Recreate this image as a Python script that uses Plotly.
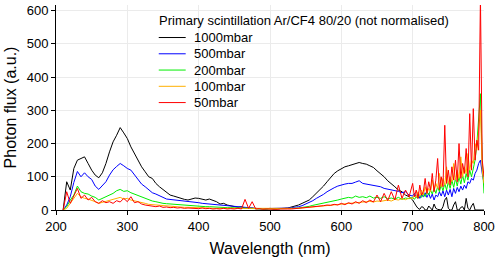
import plotly.graph_objects as go

# sampling: 5 nm up to 695 nm, 2.5 nm from 700 to 800 nm
wavelength = list(range(210, 700, 5)) + [700 + 2.5 * i for i in range(41)]

flux_1000 = [0, 85, 60, 125, 150, 155, 160, 140, 120, 105, 97, 112, 140, 175, 205, 225, 248, 232, 215, 190,
             170, 150, 130, 115, 100, 95, 80, 70, 62, 55, 45, 42, 38, 34, 32, 30, 33, 36, 35, 32,
             30, 33, 30, 25, 18, 20, 15, 12, 10, 8, 10, 6, 5, 6, 4, 5, 4, 3, 5, 3,
             3, 4, 5, 6, 8, 12, 15, 20, 25, 30, 40, 50, 62, 72, 85, 98, 110, 118, 125, 130,
             133, 136, 140, 143, 140, 138, 133, 128, 118, 110, 100, 88, 80, 70, 60, 55, 45, 40,
             30, 20, 12, 5, 2, 10, 8, 0, 0, 12, 5, 0, 18, 5, 2, 0, 0, 10, 30, 38,
             5, 0, 0, 15, 25, 0, 0, 8, 10, 0, 35, 5, 0, 12, 20, 0, 0, 0, 0, 0, 0]

flux_500 = [0, 15, 40, 83, 116, 100, 112, 100, 92, 72, 62, 72, 85, 105, 121, 131, 140, 133, 125, 120,
            105, 90, 78, 70, 60, 52, 48, 42, 38, 33, 32, 30, 28, 27, 28, 25, 24, 23, 22, 20,
            19, 18, 17, 15, 14, 13, 12, 10, 9, 8, 7, 6, 6, 5, 5, 4, 4, 4, 4, 4,
            4, 4, 5, 6, 7, 8, 10, 13, 18, 22, 28, 35, 40, 47, 55, 62, 67, 72, 76, 78,
            80, 80, 84, 88, 80, 78, 77, 75, 73, 70, 65, 63, 60, 58, 56, 52, 55, 45,
            42, 50, 38, 48, 35, 45, 40, 52, 38, 50, 35, 48, 30, 45, 40, 55, 42, 58, 40, 60,
            45, 62, 40, 65, 50, 68, 55, 72, 60, 75, 65, 85, 80, 95, 90, 110, 120, 140, 150, 110, 80]

flux_200 = [0, 10, 30, 45, 72, 55, 50, 48, 42, 38, 30, 35, 38, 45, 50, 58, 62, 56, 58, 52,
            48, 42, 38, 34, 30, 27, 25, 22, 20, 19, 18, 17, 16, 15, 15, 14, 13, 12, 12, 11,
            10, 10, 9, 9, 8, 8, 7, 7, 6, 6, 5, 5, 5, 4, 4, 4, 3, 3, 3, 3,
            3, 3, 4, 4, 5, 5, 6, 7, 9, 11, 14, 16, 19, 21, 23, 25, 28, 30, 33, 35,
            38, 36, 42, 38, 40, 37, 42, 36, 38, 35, 40, 34, 36, 33, 38, 32, 36, 34,
            38, 32, 40, 35, 45, 38, 50, 40, 55, 45, 60, 48, 65, 50, 70, 55, 75, 58, 80, 60,
            85, 65, 90, 68, 95, 72, 100, 78, 105, 82, 110, 90, 120, 100, 130, 150, 200, 280, 350, 150, 50]

flux_100 = [0, 5, 20, 35, 50, 40, 35, 33, 30, 25, 20, 23, 25, 28, 32, 35, 38, 33, 35, 30,
            28, 25, 22, 20, 17, 16, 14, 13, 12, 11, 10, 10, 9, 9, 8, 8, 8, 7, 7, 6,
            6, 6, 5, 5, 5, 5, 4, 4, 4, 4, 4, 4, 3, 3, 3, 3, 3, 3, 3, 3,
            3, 3, 3, 4, 4, 4, 5, 6, 7, 8, 9, 10, 11, 13, 14, 15, 16, 17, 18, 19,
            20, 21, 22, 24, 23, 25, 26, 24, 27, 26, 28, 30, 27, 32, 30, 34, 31, 36,
            35, 45, 38, 55, 42, 60, 45, 70, 50, 65, 55, 90, 60, 80, 65, 110, 70, 95, 75, 130,
            80, 100, 85, 140, 90, 120, 95, 160, 100, 130, 110, 170, 120, 150, 140, 200, 180, 250, 300, 120, 80]

flux_50 = [0, 55, 20, 45, 65, 35, 45, 30, 38, 25, 20, 28, 22, 25, 20, 28, 24, 35, 25, 40,
           22, 25, 18, 15, 14, 12, 10, 12, 8, 9, 7, 8, 6, 7, 5, 6, 5, 5, 4, 6,
           4, 5, 3, 4, 3, 5, 3, 4, 3, 5, 3, 32, 5, 25, 3, 4, 2, 3, 2, 3,
           2, 3, 2, 3, 3, 4, 4, 5, 6, 8, 9, 10, 12, 13, 15, 14, 17, 15, 20, 16,
           22, 18, 25, 20, 28, 22, 30, 24, 45, 25, 50, 28, 55, 30, 75, 35, 60, 40,
           80, 40, 60, 35, 75, 45, 55, 95, 50, 85, 60, 110, 55, 90, 155, 60, 100, 70, 255, 80,
           120, 75, 130, 90, 150, 85, 200, 95, 140, 110, 185, 100, 290, 120, 305, 150, 210, 180, 640, 150, 100]

series_names = ["1000mbar", "500mbar", "200mbar", "100mbar", "50mbar"]
series_values = [flux_1000, flux_500, flux_200, flux_100, flux_50]
series_colors = ["#000000", "#0000ff", "#00ee00", "#ffb000", "#ff0000"]
legend_title = "Primary scintillation Ar/CF4 80/20 (not normalised)"

x_ticks = [200, 300, 400, 500, 600, 700, 800]
y_ticks = [0, 100, 200, 300, 400, 500, 600]

for v in series_values:
    assert len(v) == len(wavelength), (len(v), len(wavelength))

FONT = "Liberation Sans, Arial, sans-serif"
W, H = 498, 258
ML, MR, MT, MB = 56, 13, 3, 47
PW, PH = W - ML - MR, H - MT - MB


def px_x(px):
    return (px - ML) / PW


def px_y(py):
    return (H - MB - py) / PH


fig = go.Figure()
for name, vals, col in zip(series_names, series_values, series_colors):
    fig.add_trace(go.Scatter(x=wavelength, y=vals, mode="lines", name=name,
                             line=dict(color=col, width=1), showlegend=False))

# legend drawn as annotations/shapes for exact spacing
shapes = []
annotations = [dict(text=legend_title, xref="paper", yref="paper", x=px_x(157), y=px_y(19),
                    xanchor="left", yanchor="middle", showarrow=False, font=dict(size=13))]
for i, (name, col) in enumerate(zip(series_names, series_colors)):
    yy = px_y(36 + i * 16.5)
    shapes.append(dict(type="line", xref="paper", yref="paper", x0=px_x(159), x1=px_x(186),
                       y0=yy, y1=yy, line=dict(color=col, width=1)))
    annotations.append(dict(text=name, xref="paper", yref="paper", x=px_x(192), y=yy,
                            xanchor="left", yanchor="middle", showarrow=False, font=dict(size=13)))

fig.update_layout(
    width=W, height=H,
    margin=dict(l=ML, r=MR, t=MT, b=MB),
    plot_bgcolor="white", paper_bgcolor="white",
    font=dict(family=FONT, size=13, color="black"),
    showlegend=False,
    shapes=shapes, annotations=annotations,
    xaxis=dict(
        range=[200, 800], tickvals=x_ticks, ticks="outside", ticklen=4, tickcolor="black",
        showline=True, linecolor="black", linewidth=1,
        showgrid=True, gridcolor="#ebebeb", gridwidth=1, zeroline=False,
        title=dict(text="Wavelength (nm)", standoff=10),
    ),
    yaxis=dict(
        range=[0, 617], tickvals=y_ticks, ticks="outside", ticklen=4, tickcolor="black",
        showline=True, linecolor="black", linewidth=1,
        showgrid=True, gridcolor="#ebebeb", gridwidth=1, zeroline=False,
        title=dict(text="Photon flux (a.u.)", standoff=6),
    ),
    xaxis2=dict(
        overlaying="x", side="top", anchor="y", range=[200, 800], tickvals=x_ticks,
        ticks="inside", ticklen=4, tickcolor="black", showticklabels=False,
        showline=True, linecolor="black", linewidth=1, showgrid=False, zeroline=False,
    ),
    yaxis2=dict(
        overlaying="y", side="right", anchor="x", range=[0, 617], tickvals=y_ticks,
        ticks="inside", ticklen=4, tickcolor="black", showticklabels=False,
        showline=True, linecolor="black", linewidth=1, showgrid=False, zeroline=False,
    ),
)

fig.write_html("out.html", config={"displayModeBar": False},
               post_script="document.body.style.margin='0';document.body.style.overflow='hidden';")
